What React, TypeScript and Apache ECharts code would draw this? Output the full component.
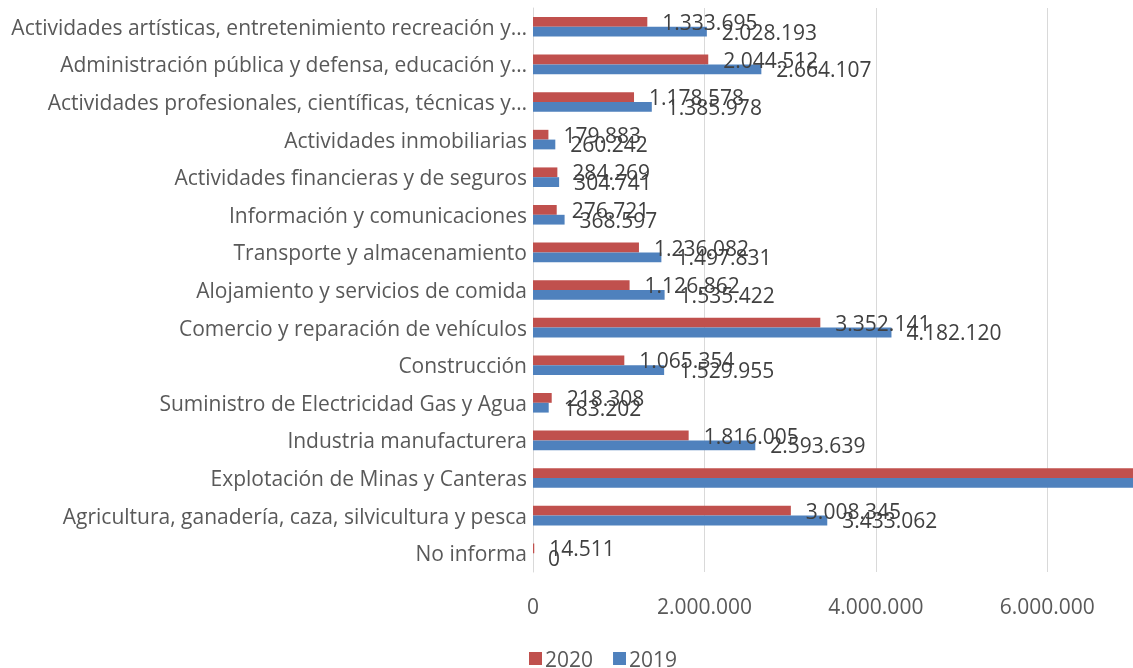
import React, { useEffect, useRef } from "react";
import * as echarts from "echarts";

const categories = [
  "No informa",
  "Agricultura, ganadería, caza, silvicultura y pesca",
  "Explotación de Minas y Canteras",
  "Industria manufacturera",
  "Suministro de Electricidad Gas y Agua",
  "Construcción",
  "Comercio y reparación de vehículos",
  "Alojamiento y servicios de comida",
  "Transporte y almacenamiento",
  "Información y comunicaciones",
  "Actividades financieras y de seguros",
  "Actividades inmobiliarias",
  "Actividades profesionales, científicas, técnicas y…",
  "Administración pública y defensa, educación y…",
  "Actividades artísticas, entretenimiento recreación y…",
];

// Mining values exceed the visible axis (clipped in the reference); estimated.
const values2020 = [14511, 3008345, 8600000, 1816005, 218308, 1065354, 3352141, 1126862, 1236082, 276721, 284269, 179883, 1178578, 2044512, 1333695];
const values2019 = [0, 3433062, 9000000, 2593639, 183202, 1529955, 4182120, 1535422, 1497831, 368597, 304741, 260242, 1385978, 2664107, 2028193];

const axisTicks = [0, 2000000, 4000000, 6000000];
const axisMax = 7000000;

const fmt = (v: number) => String(Math.round(v)).replace(/\B(?=(\d{3})+(?!\d))/g, ".");

const FONT = "Open Sans";

export default function App() {
  const ref = useRef<HTMLDivElement>(null);
  useEffect(() => {
    if (!ref.current) return;
    const chart = echarts.init(ref.current, undefined, { renderer: "svg" });
    const mkData = (arr: number[]) =>
      arr.map((v) => ({
        value: v,
        label: { show: v <= axisMax },
      }));
    const labelCfg = {
      show: true,
      position: "right" as const,
      distance: 15,
      offset: [0, 0],
      color: "#404040",
      fontSize: 21,
      fontFamily: FONT,
      formatter: (p: any) => fmt(p.value),
    };
    chart.setOption({
      animation: false,
      textStyle: { fontFamily: FONT },
      grid: { left: 533, right: 0, top: 8, bottom: 96, containLabel: false },
      legend: {
        data: ["2020", "2019"],
        top: 648,
        left: 529,
        padding: 0,
        itemWidth: 13,
        itemHeight: 13,
        itemGap: 20,
        icon: "rect",
        textStyle: {
          fontSize: 21,
          lineHeight: 20,
          color: "#595959",
          fontFamily: FONT,
          padding: [0, 0, 0, -2],
        },
      },
      xAxis: {
        type: "value",
        min: 0,
        max: axisMax,
        interval: 2000000,
        axisLine: { show: false },
        axisTick: { show: false },
        splitLine: { show: true, lineStyle: { color: "#d9d9d9", width: 1 } },
        axisLabel: {
          color: "#595959",
          fontSize: 21,
          fontFamily: FONT,
          margin: 23,
          showMaxLabel: false,
          formatter: (v: number) => (axisTicks.includes(v) ? fmt(v) : ""),
        },
      },
      yAxis: {
        type: "category",
        data: categories,
        axisLine: { show: true, lineStyle: { color: "#d9d9d9", width: 1 } },
        axisTick: { show: false },
        axisLabel: { color: "#595959", fontSize: 21, fontFamily: FONT, margin: 6 },
      },
      series: [
        {
          name: "2020",
          type: "bar",
          data: mkData(values2020),
          itemStyle: { color: "#C0504D" },
          barGap: "0%",
          barCategoryGap: "48%",
          clip: true,
          label: labelCfg,
        },
        {
          name: "2019",
          type: "bar",
          data: mkData(values2019),
          itemStyle: { color: "#4F81BD" },
          barGap: "0%",
          barCategoryGap: "48%",
          clip: true,
          label: labelCfg,
        },
      ],
    });
    return () => chart.dispose();
  }, []);
  return (
    <div
      ref={ref}
      style={{ position: "fixed", left: 0, top: 0, width: 1133, height: 668 }}
    />
  );
}
